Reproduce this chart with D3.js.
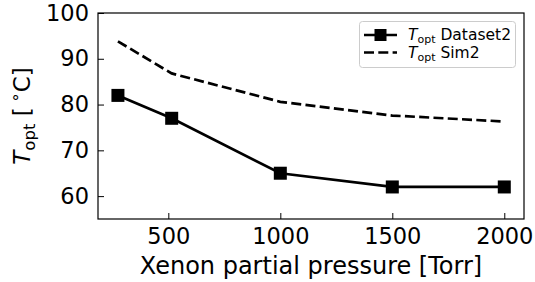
<!DOCTYPE html>
<html>
<head>
<meta charset="utf-8">
<script src="https://cdn.jsdelivr.net/npm/d3@7"></script>
<style>
  body { margin: 0; background: #fff; }
  text { font-family: "DejaVu Sans", sans-serif; }
</style>
</head>
<body>
<svg id="drawing_region"></svg>
<script>
// pressure values (Torr)
const pressure = [275, 515, 1000, 1500, 2000];
const dataset2 = [82, 77, 65, 62, 62];
const sim2 = [93.8, 86.8, 80.6, 77.6, 76.3];
const xTicks = [500, 1000, 1500, 2000];
const yTicks = [60, 70, 80, 90, 100];

const width = 535, height = 282;
const margin = {top: 13, right: 11, bottom: 63, left: 98};
const fs = 22.5;   // tick labels
const lfs = 24;    // axis labels

const svg = d3.select('#drawing_region')
    .attr('width', width)
    .attr('height', height);

const x = d3.scaleLinear()
    .domain([186, 2088])
    .range([margin.left, width - margin.right]);

const y = d3.scaleLinear()
    .domain([55, 100])
    .range([height - margin.bottom, margin.top]);

// axes, ticks pointing inward
const xAxis = svg.append('g')
    .attr('transform', `translate(0, ${height - margin.bottom})`)
    .call(d3.axisBottom(x).tickValues(xTicks).tickFormat(d3.format('d'))
        .tickSizeInner(-6).tickSizeOuter(0).tickPadding(9));

const yAxis = svg.append('g')
    .attr('transform', `translate(${margin.left}, 0)`)
    .call(d3.axisLeft(y).tickValues(yTicks).tickFormat(d3.format('d'))
        .tickSizeInner(-6).tickSizeOuter(0).tickPadding(9));

[xAxis, yAxis].forEach(a => {
    a.select('.domain').remove();
    a.selectAll('line').attr('stroke', '#000').attr('stroke-width', 1);
    a.selectAll('text')
        .attr('fill', '#000')
        .style('font-family', '"DejaVu Sans", sans-serif')
        .style('font-size', fs + 'px');
});

// frame
svg.append('rect')
    .attr('x', margin.left)
    .attr('y', margin.top)
    .attr('width', width - margin.left - margin.right)
    .attr('height', height - margin.top - margin.bottom)
    .attr('fill', 'none')
    .attr('stroke', '#000')
    .attr('stroke-width', 1.2);

const line = d3.line()
    .x(d => x(d[0]))
    .y(d => y(d[1]));

// Sim2 dashed
svg.append('path')
    .datum(pressure.map((p, i) => [p, sim2[i]]))
    .attr('d', line)
    .attr('fill', 'none')
    .attr('stroke', '#000')
    .attr('stroke-width', 2.7)
    .attr('stroke-dasharray', '10,4.3');

// Dataset2 line + squares
const ds = pressure.map((p, i) => [p, dataset2[i]]);
svg.append('path')
    .datum(ds)
    .attr('d', line)
    .attr('fill', 'none')
    .attr('stroke', '#000')
    .attr('stroke-width', 2.7);

const ms = 13;
svg.selectAll('rect.marker')
    .data(ds)
    .enter()
    .append('rect')
    .attr('class', 'marker')
    .attr('x', d => x(d[0]) - ms / 2)
    .attr('y', d => y(d[1]) - ms / 2)
    .attr('width', ms)
    .attr('height', ms)
    .attr('fill', '#000');

// axis labels
svg.append('text')
    .attr('x', (margin.left + width - margin.right) / 2)
    .attr('y', 274)
    .attr('text-anchor', 'middle')
    .style('font-size', lfs + 'px')
    .text('Xenon partial pressure [Torr]');

const yl = svg.append('text')
    .attr('transform', `translate(30, 116) rotate(-90)`)
    .attr('text-anchor', 'middle')
    .style('font-size', '23px');
yl.append('tspan').attr('font-style', 'italic').text('T');
yl.append('tspan').attr('dy', 5).style('font-size', '16.5px').text('opt');
yl.append('tspan').attr('dy', -5).text(' [\u2009');
yl.append('tspan').attr('dy', -9).style('font-size', '16.5px').text('∘');
yl.append('tspan').attr('dy', 9).text('C]');

// legend
const lg = svg.append('g');
lg.append('rect')
    .attr('x', 359.5).attr('y', 21.5)
    .attr('width', 156).attr('height', 46)
    .attr('rx', 3)
    .attr('fill', '#fff')
    .attr('fill-opacity', 0.8)
    .attr('stroke', '#ccc');

const items = [
    {label: 'Dataset2', dash: null, marker: true},
    {label: 'Sim2', dash: '10,4.3', marker: false}
];
items.forEach((it, i) => {
    const yy = 35 + i * 17.5;
    lg.append('line')
        .attr('x1', 364).attr('x2', 397)
        .attr('y1', yy).attr('y2', yy)
        .attr('stroke', '#000')
        .attr('stroke-width', 2.7)
        .attr('stroke-dasharray', it.dash);
    if (it.marker) {
        lg.append('rect')
            .attr('x', 380.5 - 6).attr('y', yy - 6)
            .attr('width', 12).attr('height', 12)
            .attr('fill', '#000');
    }
    const t = lg.append('text')
        .attr('x', 408).attr('y', yy + 5)
        .style('font-size', '15.5px');
    t.append('tspan').attr('font-style', 'italic').text('T');
    t.append('tspan').attr('dy', 3).style('font-size', '11px').text('opt');
    t.append('tspan').attr('dy', -3).text(' ' + it.label);
});
</script>
</body>
</html>
